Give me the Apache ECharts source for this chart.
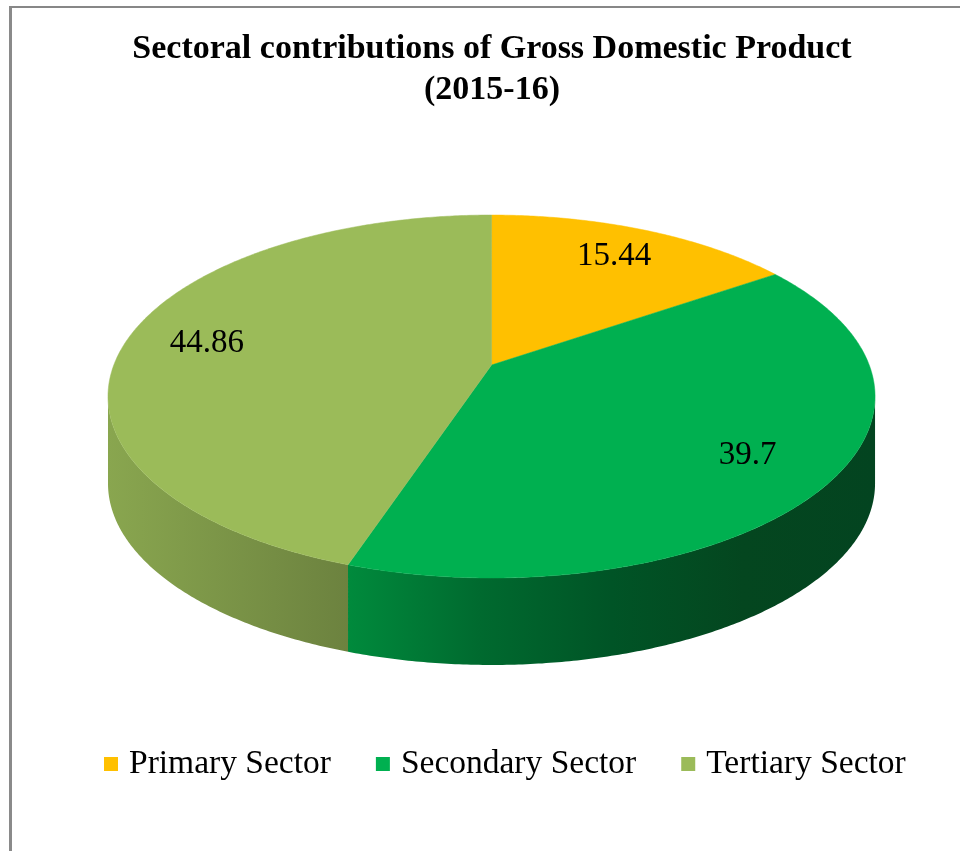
<!DOCTYPE html>
<html>
<head>
<meta charset="utf-8">
<script src="https://cdn.jsdelivr.net/npm/echarts@6/dist/echarts.min.js"></script>
<style>
  html, body { margin: 0; padding: 0; background: #fff; }
  #frame { position: absolute; left: 0; top: 0; width: 960px; height: 851px; overflow: hidden; }
  #border { position: absolute; left: 9px; top: 6px; width: 1000px; height: 900px;
            border-top: 2px solid #878787; border-left: 3px solid #8a8a8a; box-sizing: border-box; }
  #chart { position: absolute; left: 0; top: 0; width: 960px; height: 851px; }
</style>
</head>
<body>
<div id="frame">
  <div id="border"></div>
  <div id="chart"></div>
</div>
<script>
// ---- data ----
const titleText = 'Sectoral contributions of Gross Domestic Product';
const subTitleText = '(2015-16)';
const categories = ['Primary Sector', 'Secondary Sector', 'Tertiary Sector'];
const values = [15.44, 39.7, 44.86];
const topColors = ['#FFC000', '#00B050', '#9BBB59'];
const sideColors = [
  ['#d9a300', '#a67d00'],
  ['#008a3c', '#006a2f', '#005426', '#04461f', '#034420'],
  ['#89a64f', '#6c823f']
];

// ---- geometry of the tilted disc (perspective projection) ----
const FONT = 'Liberation Serif';
const total = values.reduce((a, b) => a + b, 0);
const starts = [];
{ let acc = 0; values.forEach(v => { starts.push(acc / total * Math.PI * 2); acc += v; }); }

function geom(api) {
  const W = api.getWidth();
  return { cx: W * 0.512, cy: 365, A: 377.7, B: 176, K: 0.1736, D: 87 };
}
function proj(g, theta, f) {
  const u = f * Math.sin(theta), v = f * Math.cos(theta);
  const w = 1 + g.K * v;
  return [g.cx + g.A * u / w, g.cy - g.B * v / w];
}
function arc(g, t1, t2, dy) {
  const pts = [];
  const n = Math.max(2, Math.ceil((t2 - t1) / (Math.PI / 360)));
  for (let i = 0; i <= n; i++) {
    const p = proj(g, t1 + (t2 - t1) * i / n, 1);
    pts.push([p[0], p[1] + dy]);
  }
  return pts;
}

function renderSlice(i, api) {
  const g = geom(api);
  const t1 = starts[i];
  const t2 = starts[i] + values[i] / total * Math.PI * 2;
  const children = [];
  // visible front wall range
  const visR = Math.PI / 2 + Math.asin(g.K);
  const visL = 3 * Math.PI / 2 - Math.asin(g.K);
  const a = Math.max(t1, visR), b = Math.min(t2, visL);
  if (a < b) {
    const top = arc(g, a, b, 0);
    const bot = arc(g, a, b, g.D).reverse();
    const cs = sideColors[i];
    const stops = cs.map((c, k) => ({ offset: k / (cs.length - 1), color: c }));
    children.push({
      type: 'polygon',
      shape: { points: top.concat(bot) },
      style: { fill: new echarts.graphic.LinearGradient(0, 0, 1, 0, stops), stroke: null },
      z2: 1
    });
  }
  const face = [[g.cx, g.cy]].concat(arc(g, t1, t2, 0));
  children.push({
    type: 'polygon',
    shape: { points: face },
    style: { fill: topColors[i], stroke: topColors[i], lineWidth: 0.5 },
    z2: 2
  });
  const mid = (t1 + t2) / 2;
  const lp = proj(g, mid, 0.78);
  children.push({
    type: 'text',
    x: lp[0], y: lp[1],
    style: { text: String(values[i]), font: '33px "' + FONT + '"', fill: '#000',
             align: 'center', verticalAlign: 'middle' },
    z2: 3
  });
  return { type: 'group', children };
}

const chart = echarts.init(document.getElementById('chart'), null, { renderer: 'canvas' });
chart.setOption({
  animation: false,
  backgroundColor: 'transparent',
  title: {
    text: titleText + '\n' + subTitleText,
    left: 492,
    textAlign: 'center',
    top: 29,
    padding: 0,
    textStyle: { fontFamily: FONT, fontWeight: 'bold', fontSize: 34, lineHeight: 41, color: '#000' }
  },
  legend: {
    data: categories,
    left: 104,
    top: 746,
    padding: 0,
    icon: 'rect',
    itemWidth: 14,
    itemHeight: 14,
    itemGap: 45,
    textStyle: { fontFamily: FONT, fontSize: 33.5, lineHeight: 36, color: '#000', padding: [0, 0, 0, 6] }
  },
  series: categories.map((name, i) => ({
    type: 'custom',
    name: name,
    coordinateSystem: 'none',
    silent: true,
    itemStyle: { color: topColors[i] },
    data: [values[i]],
    renderItem: (params, api) => renderSlice(i, api)
  }))
});
</script>
</body>
</html>
